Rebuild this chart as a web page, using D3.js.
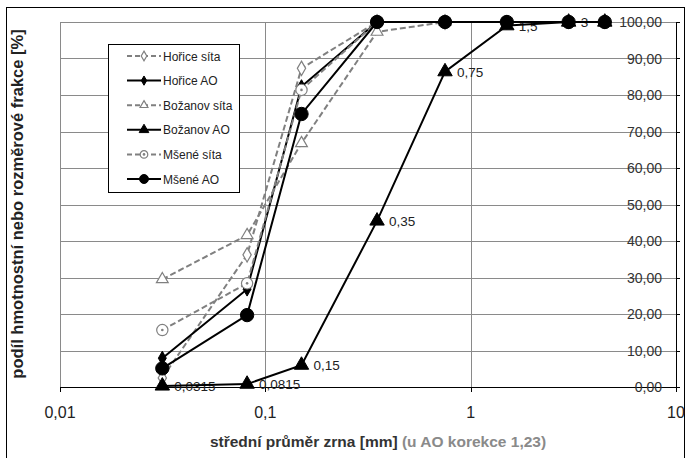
<!DOCTYPE html>
<html><head><meta charset="utf-8">
<script src="https://cdn.jsdelivr.net/npm/d3@7"></script>
<style>body{margin:0;background:#fff}svg{display:block}text{font-family:"Liberation Sans",Arial,sans-serif}</style>
</head><body>
<svg id="c" width="686" height="458"></svg>
<script>
const sizes = [0.0315, 0.0815, 0.15, 0.35, 0.75, 1.5, 3, 4.5];
const sizeLabels = ["0,0315", "0,0815", "0,15", "0,35", "0,75", "1,5", "3", ""];
const horiceSita = [2.5, 36.2, 87.3, 100, 100];
const horiceAO = [7.9, 26.8, 82.3, 100, 100, 100, 100, 100];
const bozanovSita = [29.5, 41.6, 66.8, 97.3, 100];
const bozanovAO = [0.3, 0.8, 6.0, 45.5, 86.4, 99.0, 100, 100];
const meseneSita = [15.6, 28.4, 81.4, 100, 100];
const meseneAO = [5.1, 19.7, 74.8, 100, 100, 100, 100, 100];
const yTicks = [0, 10, 20, 30, 40, 50, 60, 70, 80, 90, 100];
const xTicks = [0.01, 0.1, 1, 10];

const svg = d3.select("#c");
const L = 60, R = 676, T = 22, B = 387;
const x = d3.scaleLog().domain([0.01, 10]).range([L, R]);
const y = d3.scaleLinear().domain([0, 100]).range([B, T]);
const fmtY = v => v.toFixed(2).replace(".", ",");
const fmtX = v => String(v).replace(".", ",");

svg.append("rect").attr("x", 6.5).attr("y", 7.5).attr("width", 678).attr("height", 460)
  .attr("fill", "none").attr("stroke", "#000").attr("stroke-width", 1);

const g = svg.append("g");
// grid
g.selectAll(".hg").data(yTicks).join("line")
  .attr("x1", L).attr("x2", R).attr("y1", d => Math.round(y(d)) + 0.5).attr("y2", d => Math.round(y(d)) + 0.5)
  .attr("stroke", d => d === 0 ? "#000" : "#8a8a8a").attr("stroke-width", 1);
g.selectAll(".vg").data(xTicks).join("line")
  .attr("x1", d => Math.round(x(d)) + 0.5).attr("x2", d => Math.round(x(d)) + 0.5)
  .attr("y1", T).attr("y2", B)
  .attr("stroke", d => d === 10 ? "#000" : "#8a8a8a");
// ticks
g.selectAll(".xt").data(xTicks).join("line")
  .attr("x1", d => Math.round(x(d)) + 0.5).attr("x2", d => Math.round(x(d)) + 0.5)
  .attr("y1", B).attr("y2", B + 5).attr("stroke", "#000");
g.selectAll(".yt").data(yTicks).join("line")
  .attr("x1", R).attr("x2", R + 4).attr("y1", d => Math.round(y(d)) + 0.5).attr("y2", d => Math.round(y(d)) + 0.5)
  .attr("stroke", "#000");
// tick labels
g.selectAll(".yl").data(yTicks).join("text")
  .attr("x", 662).attr("y", d => y(d) + 5).attr("text-anchor", "end")
  .attr("font-size", 14).attr("fill", "#333").text(fmtY);
g.selectAll(".xl").data(xTicks).join("text")
  .attr("x", d => x(d)).attr("y", 418).attr("text-anchor", "middle")
  .attr("font-size", 16).attr("fill", "#222").text(fmtX);

// axis titles
const xt = svg.append("text").attr("x", 378).attr("y", 447).attr("text-anchor", "middle")
  .attr("font-size", 15.5).attr("font-weight", "bold");
xt.append("tspan").attr("fill", "#333").text("střední průměr zrna [mm] ");
xt.append("tspan").attr("fill", "#8a8a8a").text("(u AO korekce 1,23)");
svg.append("text").attr("transform", "translate(23,204) rotate(-90)").attr("text-anchor", "middle")
  .attr("font-size", 16.5).attr("font-weight", "bold").attr("fill", "#222")
  .text("podíl hmotnostní nebo rozměrové frakce [%]");

// data labels for Božanov AO
g.selectAll(".dl").data(sizes.map((s, i) => ({s, v: bozanovAO[i], t: sizeLabels[i]}))).join("text")
  .attr("x", d => x(d.s) + 12).attr("y", d => y(d.v) + 5)
  .attr("font-size", 13.5).attr("fill", "#222").text(d => d.t);

const seriesList = [
  {name: "Hořice síta", vals: horiceSita, color: "#808080", dash: "6,3", marker: "diamond", fill: "#fff", size: 60},
  {name: "Hořice AO", vals: horiceAO, color: "#000", dash: null, marker: "diamond", fill: "#000", size: 55},
  {name: "Božanov síta", vals: bozanovSita, color: "#808080", dash: "6,3", marker: "triangle", fill: "#fff", size: 60},
  {name: "Božanov AO", vals: bozanovAO, color: "#000", dash: null, marker: "triangle", fill: "#000", size: 90},
  {name: "Mšené síta", vals: meseneSita, color: "#808080", dash: "6,3", marker: "circleDot", fill: "#fff", size: 100},
  {name: "Mšené AO", vals: meseneAO, color: "#000", dash: null, marker: "circle", fill: "#000", size: 140}
];
const symType = {diamond: d3.symbolDiamond, triangle: d3.symbolTriangle, circle: d3.symbolCircle, circleDot: d3.symbolCircle};
const line = d3.line().x(d => x(d.s)).y(d => y(d.v));

function drawMarker(sel, s, size) {
  sel.append("path").attr("d", d3.symbol().type(symType[s.marker]).size(size)())
    .attr("fill", s.fill).attr("stroke", s.color).attr("stroke-width", s.fill === "#fff" ? 1.2 : 1);
  if (s.marker === "circleDot") sel.append("circle").attr("r", 1.3).attr("fill", s.color);
}

seriesList.forEach(s => {
  const pts = s.vals.map((v, i) => ({s: sizes[i], v}));
  g.append("path").datum(pts).attr("d", line).attr("fill", "none")
    .attr("stroke", s.color).attr("stroke-width", 2).attr("stroke-dasharray", s.dash);
  pts.forEach(p => {
    const m = g.append("g").attr("transform", `translate(${x(p.s)},${y(p.v)})`);
    drawMarker(m, s, s.size);
  });
});

// legend
const lg = svg.append("g");
lg.append("rect").attr("x", 108.5).attr("y", 44.5).attr("width", 131).attr("height", 148)
  .attr("fill", "#fff").attr("stroke", "#000");
seriesList.forEach((s, i) => {
  const yy = 56 + i * 24.6;
  lg.append("line").attr("x1", 127).attr("x2", 161).attr("y1", yy).attr("y2", yy)
    .attr("stroke", s.color).attr("stroke-width", 2).attr("stroke-dasharray", s.dash ? "5,3" : null);
  const m = lg.append("g").attr("transform", `translate(144,${yy})`);
  drawMarker(m, s, s.size * 0.45);
  lg.append("text").attr("x", 163).attr("y", yy + 4.5).attr("font-size", 12).attr("fill", "#222").text(s.name);
});
</script>
</body></html>
